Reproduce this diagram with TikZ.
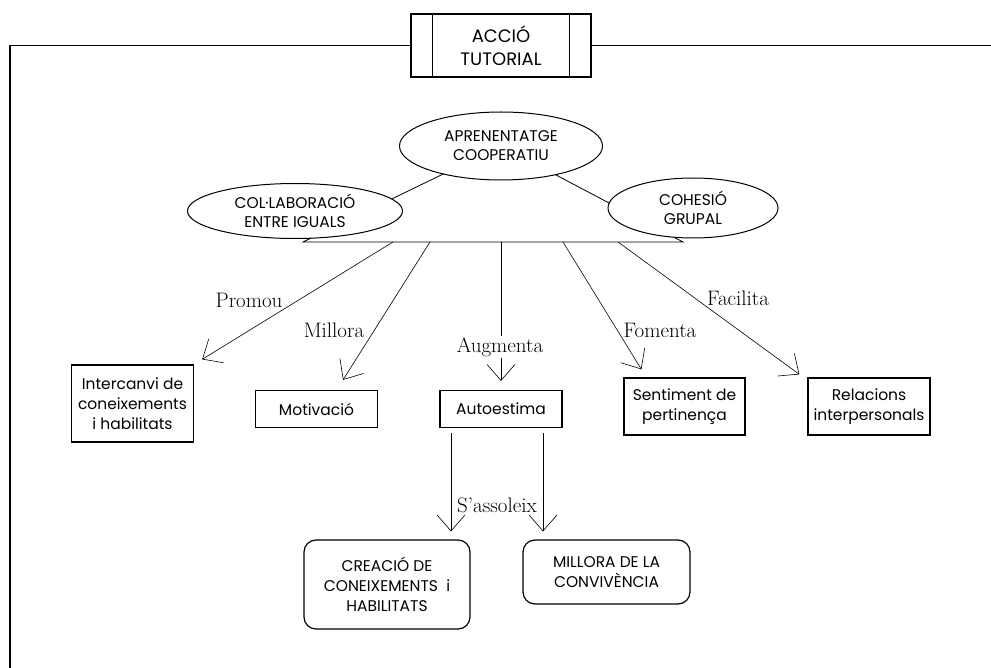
\documentclass[tikz,border=0pt]{standalone}
\usepackage{fontspec}
\usepackage{tikz}
\usetikzlibrary{shapes}
\usetikzlibrary{arrows.meta}
\usetikzlibrary{positioning}
\newfontfamily\boxfont{Poppins}
\tikzstyle{frame}=[draw,line width=1.3pt]
\tikzstyle{title}=[draw,rectangle,align=center,line width=1.3pt,fill=white,
minimum width=180pt,minimum height=63pt,
font=\boxfont\fontsize{18}{23}\selectfont]
\tikzstyle{idea}=[draw,ellipse,align=center,fill=white,line width=1pt,inner sep=0pt,
font=\boxfont\fontsize{15.5}{19}\selectfont]
\tikzstyle{box}=[draw,rectangle,align=center,line width=1.2pt,inner sep=0pt,
font=\boxfont\fontsize{15.5}{20}\selectfont]
\tikzstyle{goal}=[box,rounded corners=12pt]
\tikzstyle{verb}=[align=center,inner sep=1pt,font=\fontsize{21}{24}\selectfont]
\tikzstyle{link}=[draw,line width=0.6pt,-{Straight Barb[length=16pt,width=28pt]}]

\begin{document}
\begin{tikzpicture}[x=1pt,y=-1pt]
	\useasboundingbox (0,0) rectangle (991,668);

	\node[title] (accio) at (501,45.5) {ACCIÓ\\TUTORIAL};
	\path[draw,line width=1.2pt] ([xshift=22pt]accio.north west) -- ([xshift=22pt]accio.south west);
	\path[draw,line width=1.2pt] ([xshift=-22pt]accio.north east) -- ([xshift=-22pt]accio.south east);
	\path[frame] (accio.west) -- (10,45.5) -- (10,668);
	\path[frame] (accio.east) -- (991,45.5);

% % % base of the three ideas
	\coordinate (apex) at (501,146);
	\coordinate (bl) at (303,242);
	\coordinate (br) at (683,242);
	\path[draw,fill=white,line width=0.8pt] (apex) -- (bl) -- (br) -- cycle;

	\node[idea, minimum width=203pt, minimum height=68pt] (apren) at (501,146) {APRENENTATGE\\COOPERATIU};
	\node[idea, minimum width=215pt, minimum height=55pt] (collab) at (295,211) {COL·LABORACIÓ\\ENTRE IGUALS};
	\node[idea, minimum width=170pt, minimum height=60pt] (cohesio) at (693,208) {COHESIÓ\\GRUPAL};

	\coordinate (b1) at (393,242);
	\coordinate (b2) at (430,242);
	\coordinate (b3) at (501,242);
	\coordinate (b4) at (563,242);
	\coordinate (b5) at (618,242);

% % % what it brings
	\node[box, minimum width=122pt, minimum height=77pt] (interc) at (132.5,403.5) {Intercanvi de\\coneixements\\i habilitats};
	\node[box, minimum width=122pt, minimum height=37pt] (motiv) at (316.5,409) {Motivació};
	\node[box, minimum width=122pt, minimum height=37pt] (autoe) at (501,409) {Autoestima};
	\node[box, minimum width=121pt, minimum height=57pt] (sentim) at (684.5,406.5) {Sentiment de\\pertinença};
	\node[box, minimum width=122pt, minimum height=57pt] (relac) at (869,406.5) {Relacions\\interpersonals};

	\path[link] (b1) -- ([shift={(8,-5)}]interc.north east);
	\path[link] (b2) -- ([shift={(26.5,-10)}]motiv.north);
	\path[link] (b3) -- ([shift={(0,-9)}]autoe.north);
	\path[link] (b4) -- ([shift={(18,-8)}]sentim.north west);
	\path[link] (b5) -- ([shift={(-8,-3)}]relac.north west);

	\node[verb] (promou) at (249,300) {Promou};
	\node[verb] (millora) at (334,330) {Millora};
	\node[verb, fill=white] (augmenta) at (500,347) {Augmenta};
	\node[verb] (fomenta) at (660,330) {Fomenta};
	\node[verb] (facilita) at (738,298) {Facilita};

% % % results
	\node[goal, minimum width=166pt, minimum height=89pt] (creacio) at (387,584.5) {CREACIÓ DE\\CONEIXEMENTS~~i\\HABILITATS};
	\node[goal, minimum width=167pt, minimum height=64pt] (conviv) at (606.5,572) {MILLORA DE LA\\CONVIVÈNCIA};

	\path[link] ([xshift=-50pt,yshift=-5pt]autoe.south) -- ([xshift=-50pt,yshift=8pt]autoe.south |- creacio.north);
	\path[link] ([xshift=42pt,yshift=-5pt]autoe.south) -- ([xshift=42pt,yshift=8pt]autoe.south |- conviv.north);
	\node[verb] (assoleix) at (497,505) {S’assoleix};
\end{tikzpicture}
\end{document}
